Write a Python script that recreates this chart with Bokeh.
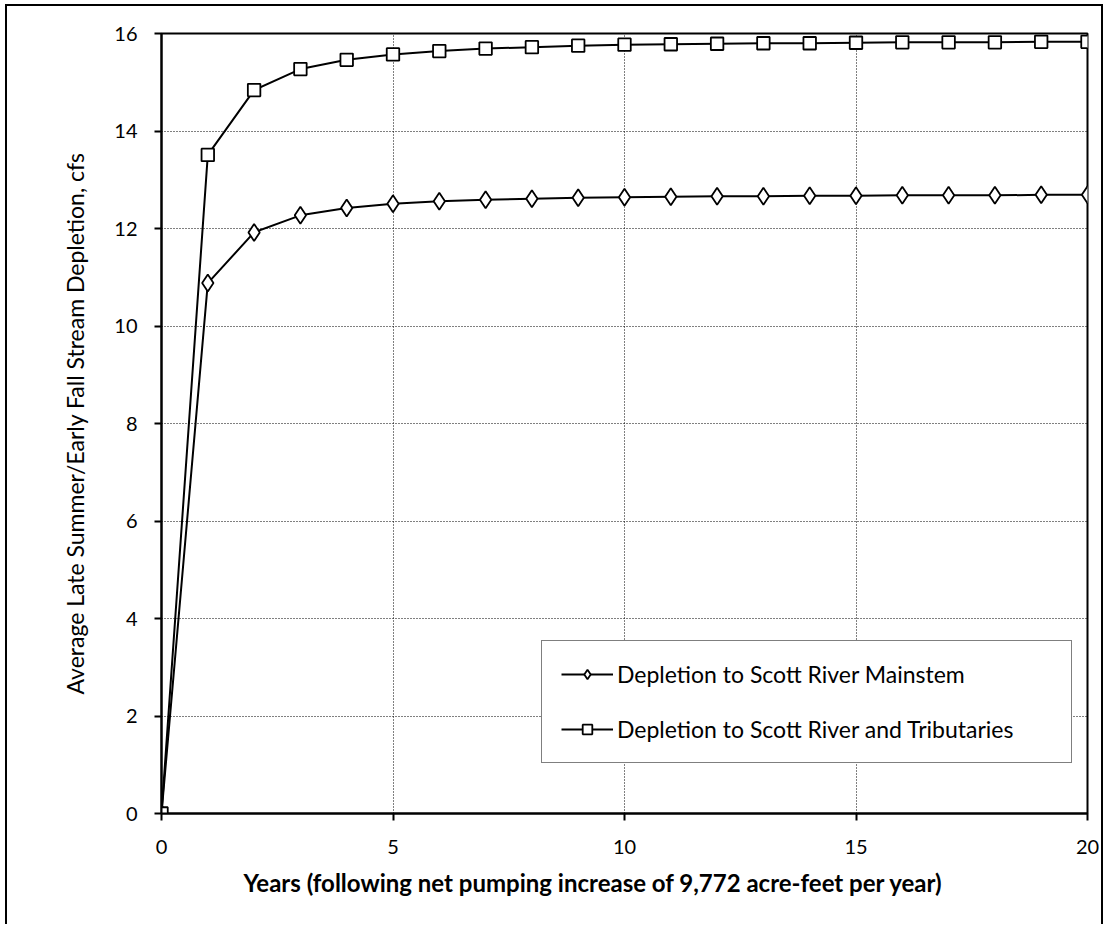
from bokeh.plotting import figure
from bokeh.models import Range1d, FixedTicker, Legend, Title
from bokeh.embed import file_html
from bokeh.resources import INLINE

years = list(range(0, 21))
mainstem = [0, 10.88, 11.92, 12.27, 12.42, 12.51, 12.56, 12.59, 12.61, 12.63, 12.64,
            12.65, 12.66, 12.66, 12.67, 12.67, 12.68, 12.68, 12.68, 12.69, 12.69]
tributaries = [0, 13.51, 14.84, 15.27, 15.46, 15.57, 15.64, 15.69, 15.72, 15.75, 15.77,
               15.78, 15.79, 15.80, 15.80, 15.81, 15.82, 15.82, 15.82, 15.83, 15.83]
x_ticks = [0, 5, 10, 15, 20]
y_ticks = [0, 2, 4, 6, 8, 10, 12, 14, 16]
label_main = "Depletion to Scott River Mainstem"
label_trib = "Depletion to Scott River and Tributaries"
x_title = "Years  (following net pumping increase of 9,772 acre-feet per year)"
y_title = "Average Late Summer/Early Fall Stream Depletion, cfs"

FONT = "Lato"

p = figure(width=1098, height=920, output_backend="svg", toolbar_location=None,
           x_range=Range1d(0, 20), y_range=Range1d(0, 16),
           min_border_left=154, min_border_right=18, min_border_top=27, min_border_bottom=113)
p.styles = {"margin-left": "5px", "margin-top": "4px",
            "border-left": "2px solid black", "border-top": "2px solid black",
            "border-right": "2px solid black"}

p.outline_line_color = "black"
p.outline_line_width = 2
p.background_fill_color = "white"
p.border_fill_color = "white"

# grids
p.xgrid.ticker = FixedTicker(ticks=[5, 10, 15])
p.ygrid.ticker = FixedTicker(ticks=[2, 4, 6, 8, 10, 12, 14])
for g in (p.xgrid, p.ygrid):
    g.grid_line_color = "black"
    g.grid_line_dash = "1 2"
    g.grid_line_width = 1

# axes
p.xaxis.ticker = FixedTicker(ticks=x_ticks)
p.yaxis.ticker = FixedTicker(ticks=y_ticks)
for ax in (p.xaxis[0], p.yaxis[0]):
    ax.axis_line_color = "black"
    ax.axis_line_width = 2
    ax.major_tick_line_color = "black"
    ax.major_tick_line_width = 2
    ax.major_tick_in = 0
    ax.major_tick_out = 7
    ax.minor_tick_line_color = None
    ax.major_label_text_font = FONT
    ax.major_label_text_font_size = "20px"
    ax.major_label_text_color = "black"
    ax.axis_label_text_font = FONT
    ax.axis_label_text_color = "black"
p.xaxis.major_label_standoff = 19
p.yaxis.major_label_standoff = 17
p.yaxis.axis_label = y_title
p.yaxis.axis_label_text_font_size = "23px"
p.yaxis.axis_label_text_font_style = "normal"
p.yaxis.axis_label_standoff = 22

# x-axis title, placed slightly left of centre as in the original
xt = Title(text=x_title, align="left", offset=82, standoff=18,
           text_font=FONT, text_font_size="24px", text_font_style="bold",
           text_color="black")
p.add_layout(xt, "below")

# series
l1 = p.line(years, mainstem, line_color="black", line_width=2)
s1 = p.scatter(years, mainstem, marker="diamond", size=17, fill_color="white",
               line_color="black", line_width=1.8)
l2 = p.line(years, tributaries, line_color="black", line_width=2)
s2 = p.scatter(years, tributaries, marker="square", size=12.5, fill_color="white",
               line_color="black", line_width=1.8)

legend = Legend(items=[(label_main, [l1, s1]), (label_trib, [l2, s2])],
                location=(380, 50))
legend.border_line_color = "black"
legend.border_line_width = 1.5
legend.background_fill_color = "white"
legend.background_fill_alpha = 1
legend.label_text_font = FONT
legend.label_text_font_size = "23px"
legend.label_text_color = "black"
legend.glyph_width = 52
legend.glyph_height = 24
legend.label_height = 24
legend.label_width = 435
legend.label_standoff = 4
legend.spacing = 27
legend.padding = 19
legend.margin = 0
p.add_layout(legend, "center")

open("out.html", "w").write(file_html(p, INLINE))
